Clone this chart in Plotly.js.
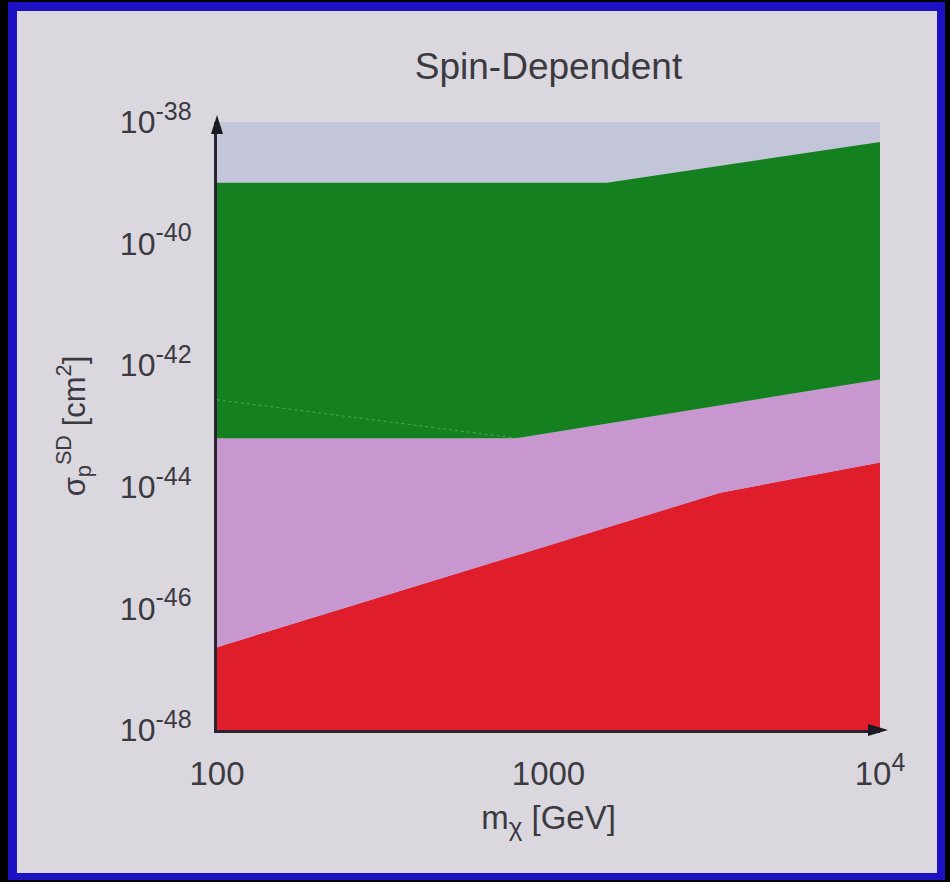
<!DOCTYPE html>
<html>
<head>
<meta charset="utf-8">
<script src="https://cdn.plot.ly/plotly-3.0.1.min.js"></script>
<style>
  html, body { margin: 0; padding: 0; background: #000; }
  #outer { position: absolute; left: 8px; top: 2px; width: 937px; height: 878px; box-sizing: border-box;
           background: #1c12c4; }
  #chart { position: absolute; left: 9px; top: 9px; width: 920px; height: 862px; }
</style>
</head>
<body>
<div id="outer"><div id="chart"></div></div>
<script>
// Lower (red) region upper boundary
const redMass = [100, 3300, 10000];
const redTop = [2.3e-47, 8e-45, 2.5e-44];
// Green region lower boundary (purple region upper boundary)
const greenLowMass = [100, 800, 10000];
const greenLow = [6.3e-44, 6.3e-44, 5.8e-43];
// Green region upper boundary
const greenHighMass = [100, 1500, 10000];
const greenHigh = [1.0e-39, 1.0e-39, 4.7e-39];
// Faint line inside green region
const faintMass = [100, 800];
const faintVal = [2.7e-43, 6.3e-44];

const xTickVals = [100, 1000, 10000];
const xTickText = ['100', '1000', '10<sup><span style="font-size:25px">4</span></sup>'];
const yTickVals = [1e-48, 1e-46, 1e-44, 1e-42, 1e-40, 1e-38];
const yExponents = ['-48', '-46', '-44', '-42', '-40', '-38'];
const yTickText = yExponents.map(e => '10<sup><span style="font-size:25px">' + e + '</span></sup>');

const yFloor = 1e-49;
const rev = a => a.slice().reverse();

const traces = [
  { // red
    x: redMass.concat(rev(redMass)),
    y: redTop.concat(redMass.map(() => yFloor)),
    mode: 'lines', fill: 'toself', fillcolor: '#e01d2b',
    line: { width: 0, color: '#e01d2b' }, hoverinfo: 'skip', showlegend: false
  },
  { // purple
    x: redMass.concat(rev(greenLowMass)),
    y: redTop.concat(rev(greenLow)),
    mode: 'lines', fill: 'toself', fillcolor: '#c897d0',
    line: { width: 0, color: '#c897d0' }, hoverinfo: 'skip', showlegend: false
  },
  { // green
    x: greenLowMass.concat(rev(greenHighMass)),
    y: greenLow.concat(rev(greenHigh)),
    mode: 'lines', fill: 'toself', fillcolor: '#15801f',
    line: { width: 0, color: '#15801f' }, hoverinfo: 'skip', showlegend: false
  },
  { // faint line
    x: faintMass, y: faintVal, mode: 'lines',
    line: { width: 1, color: 'rgba(140,210,140,0.45)', dash: 'dot' },
    hoverinfo: 'skip', showlegend: false
  }
];

const font = 'Liberation Sans, Arial, sans-serif';
const txt = '#3a3a40';

const layout = {
  width: 920, height: 862,
  margin: { l: 200, r: 57, t: 111, b: 143 },
  paper_bgcolor: '#dbd7df',
  plot_bgcolor: '#c2c6d8',
  showlegend: false,
  title: {
    text: 'Spin-Dependent',
    font: { family: font, size: 37, color: txt },
    xref: 'paper', x: 0.5, xanchor: 'center', y: 0.936, yanchor: 'middle'
  },
  xaxis: {
    type: 'log', range: [2, 4],
    tickvals: xTickVals, ticktext: xTickText,
    ticks: '', showgrid: false, zeroline: false,
    showline: true, linecolor: '#2b2230', linewidth: 3,
    tickfont: { family: font, size: 33, color: txt },
    ticklabelstandoff: 12,
    title: { text: 'm<sub><span style="font-size:26px">χ</span></sub> [GeV]', font: { family: font, size: 33, color: txt }, standoff: 16 }
  },
  yaxis: {
    type: 'log', range: [-48, -38],
    tickvals: yTickVals, ticktext: yTickText,
    ticks: '', showgrid: false, zeroline: false,
    showline: true, linecolor: '#2b2230', linewidth: 3,
    tickfont: { family: font, size: 32, color: txt },
    ticklabelstandoff: 16,
    title: { text: 'σ<sub>p</sub><sup>SD</sup> [cm<sup>2</sup>]', font: { family: font, size: 31, color: txt }, standoff: 26 }
  },
  shapes: [
    { type: 'path', xref: 'paper', yref: 'paper', xsizemode: 'pixel', ysizemode: 'pixel',
      xanchor: 0, yanchor: 1, path: 'M -6 -12 L 6 -12 L 0 7 Z',
      fillcolor: '#1a1a22', line: { width: 0 } },
    { type: 'path', xref: 'paper', yref: 'paper', xsizemode: 'pixel', ysizemode: 'pixel',
      xanchor: 1, yanchor: 0, path: 'M -12 -6 L -12 6 L 8 0 Z',
      fillcolor: '#1a1a22', line: { width: 0 } }
  ]
};

Plotly.newPlot('chart', traces, layout, { staticPlot: true, displayModeBar: false });
</script>
</body>
</html>
